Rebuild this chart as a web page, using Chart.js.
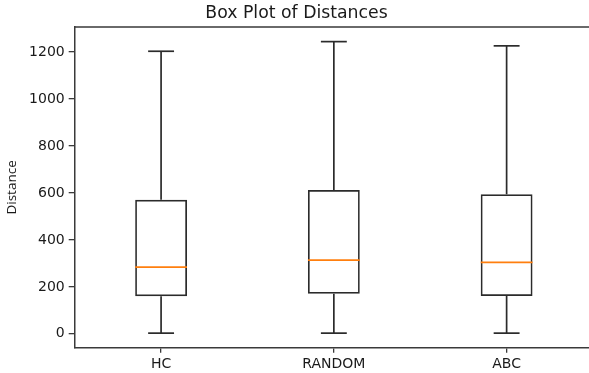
<!DOCTYPE html>
<html>
<head>
<meta charset="utf-8">
<script src="https://cdn.jsdelivr.net/npm/chart.js@4.4.0/dist/chart.umd.min.js"></script>
<style>
  html, body { margin: 0; padding: 0; background: #fff; overflow: hidden; }
  #wrap { width: 595px; height: 373px; }
</style>
</head>
<body>
<div id="wrap"><canvas id="c" width="595" height="373"></canvas></div>
<script>
const categories = ['HC', 'RANDOM', 'ABC'];
const whiskerLow = [3, 3, 3];
const q1 = [160, 171, 161];
const median = [284, 314, 304];
const q3 = [571, 612, 594];
const whiskerHigh = [1203, 1244, 1226];
const yTicks = [0, 200, 400, 600, 800, 1000, 1200];

const LINE = '#2b2b2b';
const SPINE = '#3a3a3a';
const TXT = '#1a1a1a';

const boxPlugin = {
  id: 'boxParts',
  afterDatasetsDraw(chart) {
    const ctx = chart.ctx;
    const xs = chart.scales.x, ys = chart.scales.y;
    const meta = chart.getDatasetMeta(0);
    ctx.save();
    categories.forEach((c, i) => {
      const bar = meta.data[i];
      const x = xs.getPixelForValue(i);
      const halfBox = bar.width / 2;
      const capHalf = halfBox / 2;
      ctx.strokeStyle = LINE;
      ctx.lineWidth = 1.7;
      ctx.beginPath();
      ctx.moveTo(x, ys.getPixelForValue(q1[i]));
      ctx.lineTo(x, ys.getPixelForValue(whiskerLow[i]));
      ctx.stroke();
      ctx.beginPath();
      ctx.moveTo(x, ys.getPixelForValue(q3[i]));
      ctx.lineTo(x, ys.getPixelForValue(whiskerHigh[i]));
      ctx.stroke();
      [whiskerLow[i], whiskerHigh[i]].forEach(v => {
        const y = ys.getPixelForValue(v);
        ctx.beginPath();
        ctx.moveTo(x - capHalf, y);
        ctx.lineTo(x + capHalf, y);
        ctx.stroke();
      });
      ctx.strokeStyle = '#ff7f0e';
      ctx.lineWidth = 1.8;
      const ym = ys.getPixelForValue(median[i]);
      ctx.beginPath();
      ctx.moveTo(x - halfBox, ym);
      ctx.lineTo(x + halfBox, ym);
      ctx.stroke();
    });
    const a = chart.chartArea;
    ctx.strokeStyle = SPINE;
    ctx.lineWidth = 1.5;
    ctx.beginPath();
    ctx.moveTo(a.left, a.top);
    ctx.lineTo(a.right, a.top);
    ctx.lineTo(a.right, a.bottom);
    ctx.stroke();
    ctx.restore();
  }
};

new Chart(document.getElementById('c'), {
  type: 'bar',
  data: {
    labels: categories,
    datasets: [{
      data: categories.map((c, i) => [q1[i], q3[i]]),
      backgroundColor: 'rgba(0,0,0,0)',
      borderColor: LINE,
      borderWidth: 1.7,
      borderSkipped: false,
      categoryPercentage: 1.0,
      barPercentage: 0.30
    }]
  },
  options: {
    responsive: false,
    animation: false,
    layout: { padding: { left: 0, right: 2, top: 0, bottom: 0 } },
    plugins: {
      legend: { display: false },
      tooltip: { enabled: false },
      title: {
        display: true,
        text: 'Box Plot of Distances',
        color: TXT,
        font: { family: 'DejaVu Sans', size: 17.3, weight: 'normal' },
        padding: { top: 3.5, bottom: 2.8 }
      }
    },
    scales: {
      x: {
        type: 'category',
        offset: true,
        grid: { offset: false, drawOnChartArea: false, drawTicks: true, tickLength: 5, color: SPINE, lineWidth: 1.3 },
        border: { display: true, color: SPINE, width: 1.5 },
        ticks: { color: TXT, padding: 3, font: { family: 'DejaVu Sans', size: 14 } },
        afterFit(s) { s.height = 25.3; }
      },
      y: {
        type: 'linear',
        min: -59,
        max: 1306,
        afterBuildTicks(s) { s.ticks = yTicks.map(v => ({ value: v })); },
        grid: { drawOnChartArea: false, drawTicks: true, tickLength: 6, color: SPINE, lineWidth: 1.3 },
        border: { display: true, color: SPINE, width: 1.5 },
        ticks: {
          color: TXT, padding: 4, font: { family: 'DejaVu Sans', size: 14 },
          callback: v => String(v)
        },
        title: {
          display: true,
          text: 'Distance',
          color: TXT,
          font: { family: 'Open Sans', size: 13.5 },
          padding: { top: 4, bottom: 0 }
        },
        afterFit(s) { s.width = 74.7; }
      }
    }
  },
  plugins: [boxPlugin]
});
</script>
</body>
</html>
